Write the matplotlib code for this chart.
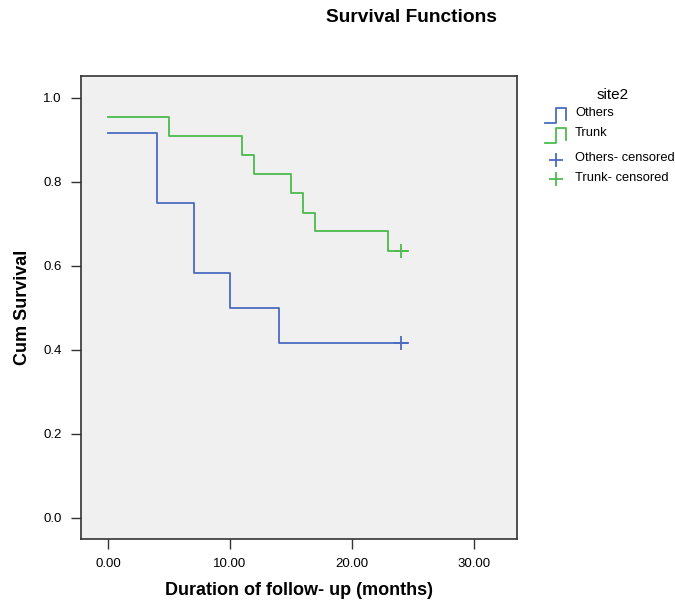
import matplotlib
matplotlib.use("Agg")
import matplotlib.pyplot as plt
from matplotlib.lines import Line2D

plt.rcParams['font.family'] = ['Liberation Sans', 'DejaVu Sans']

# Data (Kaplan-Meier step curves)
others_t = [0, 4, 7, 10, 14, 24.6]
others_s = [0.917, 0.750, 0.583, 0.500, 0.417, 0.417]
others_cens_t = [24]
others_cens_s = [0.417]

trunk_t = [0, 5, 11, 12, 15, 16, 17, 23, 24.6]
trunk_s = [0.955, 0.909, 0.864, 0.818, 0.773, 0.727, 0.682, 0.636, 0.636]
trunk_cens_t = [24]
trunk_cens_s = [0.636]

xticks = [0, 10, 20, 30]
xticklabels = ["0.00", "10.00", "20.00", "30.00"]
yticks = [0.0, 0.2, 0.4, 0.6, 0.8, 1.0]
yticklabels = ["0.0", "0.2", "0.4", "0.6", "0.8", "1.0"]

legend_labels = ["Others", "Trunk", "Others- censored", "Trunk- censored"]

blue = '#4a6cc0'
green = '#4cbb4c'

W, H = 675, 603
fig = plt.figure(figsize=(W / 100, H / 100), dpi=100)
L, R, T, B = 81, 517, 76, 539
ax = fig.add_axes([L / W, (H - B) / H, (R - L) / W, (B - T) / H])
ax.set_facecolor('#eff0ef')

ax.step(others_t, others_s, where='post', color=blue, lw=1.3)
ax.step(trunk_t, trunk_s, where='post', color=green, lw=1.3)
ax.plot(others_cens_t, others_cens_s, '+', color=blue, ms=10, mew=1.3)
ax.plot(trunk_cens_t, trunk_cens_s, '+', color=green, ms=10, mew=1.3)

ax.set_xlim(-2.24, 33.56)
ax.set_ylim(-0.05, 1.052)
ax.set_xticks(xticks)
ax.set_xticklabels(xticklabels)
ax.set_yticks(yticks)
ax.set_yticklabels(yticklabels)
ax.tick_params(direction='out', length=7, width=1, labelsize=9.5, color='#333333', pad=7)
for s in ax.spines.values():
    s.set_color('#333333')
    s.set_linewidth(1.2)

ax.set_xlabel("Duration of follow- up (months)", fontsize=13, fontweight='bold', labelpad=8)
ax.set_ylabel("Cum Survival", fontsize=13, fontweight='bold', labelpad=9)

fig.text(411 / W, 1 - 18 / H, "Survival Functions", ha='center', va='center',
         fontsize=13.8, fontweight='bold')

# Legend drawn manually in figure pixel coordinates
def fx(x):
    return x / W

def fy(y):
    return 1 - y / H

fig.text(fx(613), fy(95), "site2", ha='center', va='center', fontsize=11)
for yb, col in [(123, blue), (143, green)]:
    xs = [545, 556, 556, 566, 566]
    ys = [yb, yb, yb - 15, yb - 15, yb - 3]
    fig.add_artist(Line2D([fx(x) for x in xs], [fy(y) for y in ys], color=col, lw=1.3))
for yc, col in [(160, blue), (179, green)]:
    fig.add_artist(Line2D([fx(556)], [fy(yc)], marker='+', color=col, ms=10, mew=1.3))
for yt, lab in zip([113, 133, 158, 178], legend_labels):
    fig.text(fx(575), fy(yt), lab, ha='left', va='center', fontsize=9.3)

fig.savefig("out.png", dpi=100, facecolor='white')
